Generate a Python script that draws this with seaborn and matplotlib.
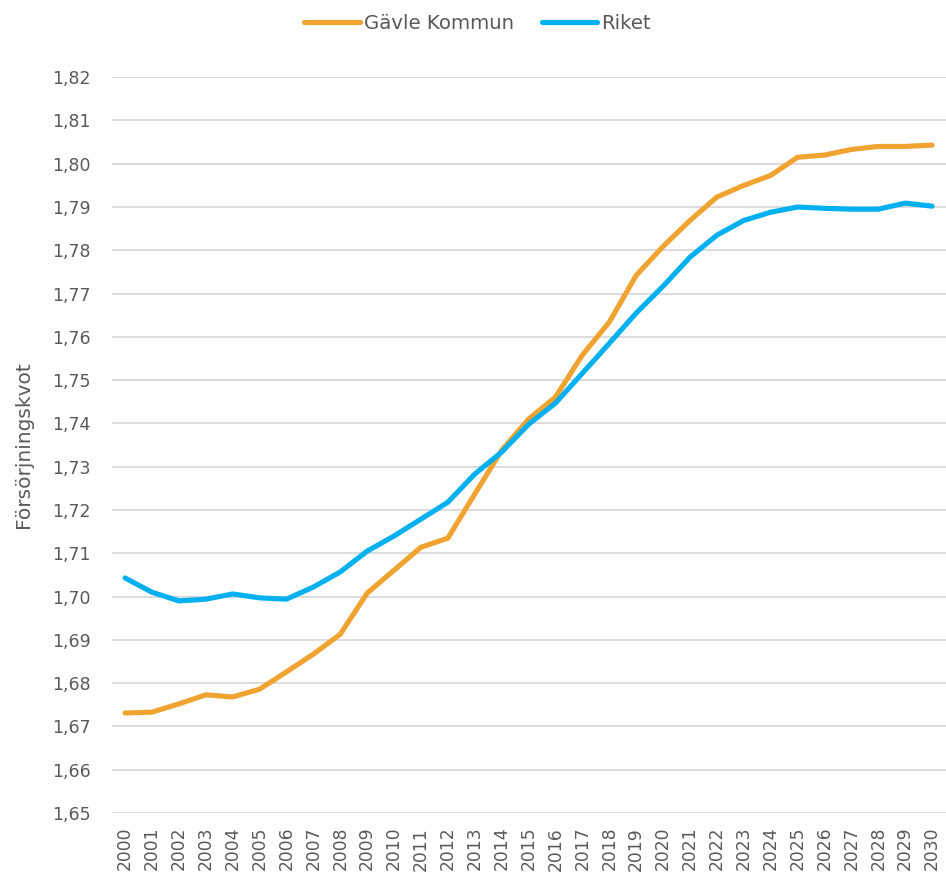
import numpy as np
import pandas as pd
import matplotlib
matplotlib.use("Agg")
import matplotlib.pyplot as plt
import seaborn as sns
from matplotlib.ticker import FuncFormatter
from matplotlib.lines import Line2D

years = list(range(2000, 2031))
gavle = [1.6731, 1.6733, 1.6752, 1.6773, 1.6768, 1.6786, 1.6826, 1.6867, 1.6913, 1.7008,
         1.7061, 1.7114, 1.7135, 1.7237, 1.7338, 1.7410, 1.7461, 1.7558, 1.7634, 1.7742,
         1.7809, 1.7869, 1.7923, 1.7950, 1.7973, 1.8015, 1.8020, 1.8033, 1.8040, 1.8040, 1.8043]
riket = [1.7043, 1.7010, 1.6990, 1.6994, 1.7006, 1.6997, 1.6994, 1.7022, 1.7057, 1.7105,
         1.7140, 1.7179, 1.7218, 1.7283, 1.7334, 1.7398, 1.7447, 1.7516, 1.7585, 1.7655,
         1.7717, 1.7784, 1.7835, 1.7869, 1.7888, 1.7900, 1.7897, 1.7895, 1.7895, 1.7909, 1.7902]
series_names = ["Gävle Kommun", "Riket"]
colors = ["#F0A330", "#00B0F0"]
y_ticks = [round(1.65 + 0.01 * i, 2) for i in range(18)]

df = pd.DataFrame({
    "idx": list(range(len(years))) * 2,
    "value": gavle + riket,
    "serie": [series_names[0]] * len(years) + [series_names[1]] * len(years),
})

sns.set_theme(style="white")
plt.rcParams["font.family"] = ["DejaVu Sans"]

fig = plt.figure(figsize=(9.46, 8.77), dpi=100)
ax = fig.add_axes([0.118, 0.073, 0.8815, 0.839])

sns.lineplot(data=df, x="idx", y="value", hue="serie", palette=dict(zip(series_names, colors)),
             linewidth=3.7, ax=ax, legend=False, solid_capstyle="round", solid_joinstyle="round")

ax.set_xlim(-0.5, len(years) - 0.5)
ax.set_ylim(1.65, 1.82)
ax.set_yticks(y_ticks)
ax.yaxis.set_major_formatter(FuncFormatter(lambda v, p: f"{v:.2f}".replace(".", ",")))
ax.set_xticks(range(len(years)))
ax.set_xticklabels([str(y) for y in years], rotation=90, fontsize=12.3, color="#595959")
ax.tick_params(axis="y", labelsize=12.5, labelcolor="#595959", length=0, pad=15)
ax.tick_params(axis="x", length=0, pad=10)
ax.grid(axis="y", color="#D9D9D9", linewidth=1.3)
ax.set_axisbelow(True)
for s in ax.spines.values():
    s.set_visible(False)
ax.set_xlabel("")
ax.set_ylabel("Försörjningskvot", fontsize=14.5, color="#595959")
ax.yaxis.set_label_coords(-0.094, 0.5)

handles = [Line2D([0], [0], color=c, linewidth=3.7, solid_capstyle="round") for c in colors]
fig.legend(handles, series_names, loc="center", bbox_to_anchor=(0.505, 0.973), ncol=2,
           frameon=False, fontsize=14.2, labelcolor="#595959", handlelength=2.8,
           handletextpad=0.2, columnspacing=1.45)

fig.savefig("out.png", dpi=100, facecolor="white")
